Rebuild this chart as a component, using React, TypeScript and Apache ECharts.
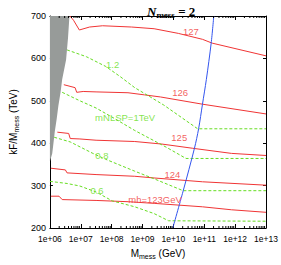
import React, { useEffect, useRef } from "react";
import * as echarts from "echarts";

// x values are log10(M_mess / GeV); y values are kF/M_mess in TeV
const xTicks = [6, 7, 8, 9, 10, 11, 12, 13];
const yTicks = [200, 300, 400, 500, 600, 700];

const grayX = [6.0, 6.633, 6.586, 6.524, 6.398, 6.345, 6.273, 6.219, 6.157, 6.107, 6.075, 6.0];
const grayY = [700, 700, 648, 597, 551, 520, 488, 457, 427, 395, 376, 357];

const red127X = [6.649, 6.765, 6.953, 7.285, 7.705, 8.645, 9.375, 10.159, 10.942, 11.256, 13];
const red127Y = [700, 690, 667, 674, 677, 674, 670, 659, 645, 636, 606];
const red126X = [6.451, 6.815, 6.868, 7.078, 7.495, 8.529, 9.062, 9.585, 10.942, 13];
const red126Y = [538, 531, 520, 522, 521, 519, 514, 509, 492, 469];
const red125X = [6.241, 6.608, 6.658, 6.971, 7.495, 8.748, 9.626, 10.627, 11.88, 13];
const red125Y = [426, 423, 411, 410, 407, 404, 398, 388, 376, 371];
const red124X = [6.031, 6.501, 6.555, 7.495, 8.748, 9.375, 10.942, 13];
const red124Y = [341, 337, 330, 326, 322, 318, 309, 301];
const red123X = [6.031, 6.295, 6.398, 7.495, 8.538, 9.4, 10.942, 11.88, 13];
const red123Y = [275, 275, 267, 265, 262, 258, 250, 243, 237];

const g12X = [6.555, 7.182, 7.809, 8.279, 8.748, 9.688, 10.785, 13];
const g12Y = [620, 604, 581, 557, 531, 490, 434, 434];
const g10X = [6.398, 6.971, 7.495, 8.122, 8.748, 9.782, 10.409, 13];
const g10Y = [520, 500, 483, 457, 430, 390, 364, 364];
const g08X = [6.138, 6.658, 7.391, 7.808, 8.748, 9.375, 10.315, 13];
const g08Y = [414, 403, 376, 362, 334, 316, 288, 288];
const g06X = [6.0, 6.555, 6.971, 7.495, 8.018, 8.748, 9.375, 9.845, 13];
const g06Y = [310, 305, 299, 285, 264, 250, 234, 217, 216];

const blueX = [9.98, 10.315, 10.682, 10.817, 10.942, 11.067, 11.224, 11.309];
const blueY = [200, 287, 388, 434, 492, 550, 636, 700];

const labelTexts = ["127", "126", "125", "124", "mh=123GeV", "1.2", "mNLSP=1TeV", "0.8", "0.6"];
const labelX = [10.566, 10.221, 10.19, 9.97, 9.406, 8.03, 8.435, 7.683, 7.526];
const labelY = [663, 520, 413, 327, 268, 585, 461, 370, 288];
const labelKinds = ["h", "h", "h", "h", "h", "n", "n", "n", "n"];

const minorMultipliers = [2, 3, 4, 5, 6, 7, 8, 9];

const RED = "#f03535";
const GREEN = "#66dd22";
const BLUE = "#3355ee";
const GRAY = "#979b99";
const FONT = "Liberation Sans";

const zip = (xs: number[], ys: number[]) => xs.map((x, i) => [x, ys[i]]);

export default function App() {
  const ref = useRef<HTMLDivElement>(null);
  useEffect(() => {
    if (!ref.current) return;
    const chart = echarts.init(ref.current, undefined, { renderer: "svg" });

    const minorTicks: number[][] = [];
    for (let d = xTicks[0]; d < xTicks[xTicks.length - 1]; d++) {
      for (const m of minorMultipliers) minorTicks.push([d + Math.log10(m), 200]);
    }

    const redLine = (xs: number[], ys: number[]) => ({
      type: "line",
      data: zip(xs, ys),
      symbol: "none",
      lineStyle: { color: RED, width: 1 },
      z: 3,
      silent: true,
    });
    const greenLine = (xs: number[], ys: number[]) => ({
      type: "line",
      data: zip(xs, ys),
      symbol: "none",
      lineStyle: { color: GREEN, width: 1, type: [3, 2] },
      z: 3,
      silent: true,
    });

    const axisCommonX = {
      type: "value",
      min: xTicks[0],
      max: xTicks[xTicks.length - 1],
      interval: 1,
      splitLine: { show: false },
      axisLine: { show: true, lineStyle: { color: "#000", width: 1 } },
      axisTick: { show: true, inside: true, length: 4, lineStyle: { color: "#000" } },
    };
    const axisCommonY = {
      type: "value",
      min: yTicks[0],
      max: yTicks[yTicks.length - 1],
      interval: 100,
      splitLine: { show: false },
      axisLine: { show: true, lineStyle: { color: "#000", width: 1 } },
      axisTick: { show: true, inside: true, length: 3, lineStyle: { color: "#000" } },
    };

    chart.setOption({
      animation: false,
      backgroundColor: "#fff",
      textStyle: { fontFamily: FONT },
      title: {
        text: "{n|N}{s|mess}{e| = 2}",
        left: 142,
        top: -2,
        textStyle: {
          rich: {
            n: { fontFamily: "Liberation Serif", fontStyle: "italic", fontSize: 13, lineHeight: 16, color: "#000" },
            s: { fontFamily: "Liberation Serif", fontWeight: "bold", fontSize: 9, lineHeight: 9, verticalAlign: "bottom", color: "#000" },
            e: { fontFamily: "Liberation Serif", fontSize: 13, lineHeight: 16, color: "#000" },
          },
        },
      },
      grid: { left: 42, right: 15, top: 16, bottom: 34, containLabel: false },
      xAxis: [
        {
          ...axisCommonX,
          position: "bottom",
          axisLabel: {
            fontSize: 8.5,
            color: "#000",
            margin: 6,
            formatter: (v: number) => `1e+${v < 10 ? "0" : ""}${v}`,
          },
          name: "{a|M}{b|mess}{a| (GeV)}",
          nameLocation: "middle",
          nameGap: 18,
          nameTextStyle: {
            rich: {
              a: { fontSize: 10, lineHeight: 14, color: "#000", fontFamily: FONT },
              b: { fontSize: 7, lineHeight: 8, verticalAlign: "bottom", color: "#000", fontFamily: FONT },
            },
          },
        },
        { ...axisCommonX, position: "top", axisLabel: { show: false } },
      ],
      yAxis: [
        {
          ...axisCommonY,
          position: "left",
          axisLabel: { fontSize: 9, color: "#000", margin: 4 },
          name: "{a|kF/M}{b|mess}{a| (TeV)}",
          nameLocation: "middle",
          nameGap: 26,
          nameTextStyle: {
            rich: {
              a: { fontSize: 10, lineHeight: 14, color: "#000", fontFamily: FONT },
              b: { fontSize: 7, lineHeight: 8, verticalAlign: "bottom", color: "#000", fontFamily: FONT },
            },
          },
        },
        { ...axisCommonY, position: "right", axisLabel: { show: false } },
      ],
      series: [
        {
          type: "custom",
          data: [[grayX[0], grayY[0]]],
          clip: true,
          z: 1,
          silent: true,
          renderItem: (_params: any, api: any) => ({
            type: "polygon",
            shape: { points: grayX.map((x, i) => api.coord([x, grayY[i]])) },
            style: { fill: GRAY },
          }),
        },
        redLine(red127X, red127Y),
        redLine(red126X, red126Y),
        redLine(red125X, red125Y),
        redLine(red124X, red124Y),
        redLine(red123X, red123Y),
        greenLine(g12X, g12Y),
        greenLine(g10X, g10Y),
        greenLine(g08X, g08Y),
        greenLine(g06X, g06Y),
        {
          type: "line",
          data: zip(blueX, blueY),
          symbol: "none",
          smooth: 0.3,
          lineStyle: { color: BLUE, width: 1 },
          z: 4,
          silent: true,
        },
        {
          type: "scatter",
          symbolSize: 0,
          z: 5,
          silent: true,
          itemStyle: { color: "transparent" },
          data: labelTexts.map((t, i) => ({
            name: t,
            value: [labelX[i], labelY[i]],
            label: { color: labelKinds[i] === "h" ? RED : GREEN },
          })),
          label: {
            show: true,
            position: "inside",
            formatter: "{b}",
            fontSize: 9.5,
            fontFamily: FONT,
            textBorderWidth: 0,
            textBorderColor: "transparent",
            textShadowBlur: 0,
          },
        },
        {
          type: "custom",
          data: minorTicks,
          clip: false,
          z: 6,
          silent: true,
          renderItem: (params: any, api: any) => {
            const cs = params.coordSys;
            const x = api.coord([api.value(0), 200])[0];
            return {
              type: "group",
              children: [
                { type: "line", shape: { x1: x, y1: cs.y + cs.height, x2: x, y2: cs.y + cs.height - 2 }, style: { stroke: "#000", lineWidth: 1 } },
                { type: "line", shape: { x1: x, y1: cs.y, x2: x, y2: cs.y + 2 }, style: { stroke: "#000", lineWidth: 1 } },
              ],
            };
          },
        },
      ],
    });
    return () => chart.dispose();
  }, []);
  return (
    <div
      ref={ref}
      style={{ position: "fixed", left: 0, top: 0, width: 281, height: 265, background: "#fff" }}
    />
  );
}
